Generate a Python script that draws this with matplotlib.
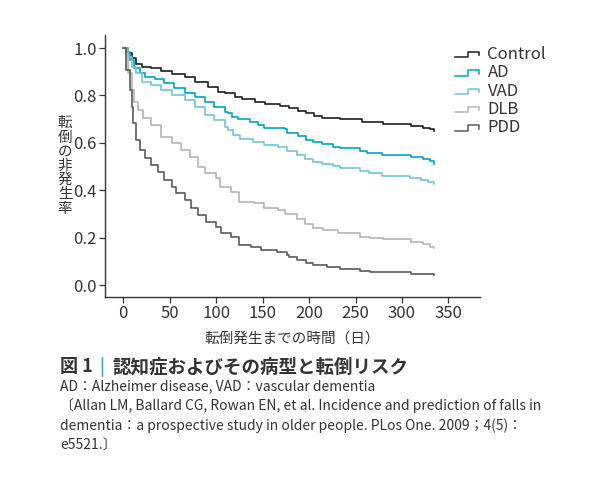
import matplotlib
matplotlib.use("Agg")
import matplotlib.pyplot as plt
from matplotlib.legend_handler import HandlerBase
from matplotlib.lines import Line2D

plt.rcParams['font.family'] = ['Noto Sans CJK JP', 'DejaVu Sans']

# values (time in days, proportion not fallen)
groups = ["Control", "AD", "VAD", "DLB", "PDD"]

control_days = [0, 5, 9, 14, 20, 30, 41, 52, 66, 77, 91, 102, 110, 120, 128, 142, 153, 169, 178, 188, 197, 205, 214, 233, 257, 280, 310, 323, 330, 335]
control_vals = [1.0, 0.978, 0.956, 0.932, 0.921, 0.914, 0.904, 0.89, 0.876, 0.858, 0.837, 0.816, 0.809, 0.795, 0.783, 0.774, 0.764, 0.755, 0.746, 0.734, 0.724, 0.713, 0.706, 0.699, 0.686, 0.678, 0.671, 0.664, 0.657, 0.651]

ad_days = [0, 3, 7, 12, 18, 23, 34, 44, 55, 66, 77, 88, 98, 109, 113, 117, 124, 136, 145, 151, 174, 176, 188, 197, 204, 214, 226, 233, 255, 262, 278, 310, 323, 330, 335]
ad_vals = [1.0, 0.985, 0.949, 0.914, 0.893, 0.879, 0.868, 0.851, 0.83, 0.812, 0.792, 0.774, 0.752, 0.731, 0.724, 0.71, 0.70, 0.686, 0.675, 0.664, 0.658, 0.64, 0.63, 0.612, 0.602, 0.594, 0.584, 0.577, 0.567, 0.557, 0.549, 0.541, 0.532, 0.523, 0.513]

vad_days = [0, 5, 9, 14, 20, 30, 41, 52, 66, 77, 88, 98, 109, 113, 118, 126, 140, 151, 167, 176, 187, 196, 204, 214, 226, 233, 255, 264, 278, 309, 321, 328, 335]
vad_vals = [1.0, 0.963, 0.921, 0.893, 0.858, 0.844, 0.823, 0.80, 0.78, 0.752, 0.717, 0.696, 0.668, 0.654, 0.633, 0.616, 0.602, 0.591, 0.581, 0.567, 0.549, 0.532, 0.518, 0.509, 0.502, 0.492, 0.481, 0.471, 0.46, 0.453, 0.443, 0.433, 0.425]

dlb_days = [0, 3, 5, 9, 12, 16, 21, 30, 41, 52, 62, 72, 80, 88, 100, 104, 116, 125, 141, 152, 167, 174, 187, 196, 204, 215, 231, 255, 266, 280, 310, 323, 330, 335]
dlb_vals = [1.0, 0.978, 0.893, 0.823, 0.774, 0.738, 0.703, 0.675, 0.626, 0.598, 0.57, 0.541, 0.499, 0.471, 0.45, 0.415, 0.394, 0.351, 0.345, 0.324, 0.316, 0.302, 0.281, 0.256, 0.242, 0.232, 0.218, 0.204, 0.20, 0.193, 0.183, 0.173, 0.162, 0.157]

pdd_days = [0, 3, 7, 9, 10, 14, 18, 23, 30, 37, 44, 52, 57, 66, 73, 80, 89, 100, 105, 116, 125, 138, 148, 166, 176, 178, 187, 197, 204, 219, 233, 255, 266, 276, 310, 323, 335]
pdd_vals = [1.0, 0.907, 0.823, 0.752, 0.682, 0.612, 0.57, 0.535, 0.506, 0.478, 0.443, 0.415, 0.387, 0.359, 0.324, 0.295, 0.267, 0.246, 0.218, 0.204, 0.169, 0.162, 0.148, 0.14, 0.127, 0.12, 0.105, 0.092, 0.084, 0.077, 0.07, 0.06, 0.056, 0.054, 0.048, 0.045, 0.041]

x_ticks = [0, 50, 100, 150, 200, 250, 300, 350]
y_ticks = [0.0, 0.2, 0.4, 0.6, 0.8, 1.0]

colors = ["#1e1e1e", "#00a5c2", "#6fc6da", "#b4b4b4", "#5a5a5a"]
series = [(control_days, control_vals), (ad_days, ad_vals), (vad_days, vad_vals),
          (dlb_days, dlb_vals), (pdd_days, pdd_vals)]


class StepHandler(HandlerBase):
    # little step glyph like in the original legend
    def create_artists(self, legend, orig_handle, xdescent, ydescent,
                       width, height, fontsize, trans):
        lo = height * 0.15
        hi = height * 0.6
        xs = [0, width * 0.5, width * 0.5, width * 0.9, width * 0.9]
        ys = [lo, lo, hi, hi, lo + (hi - lo) * 0.35]
        ln = Line2D(xs, ys, color=orig_handle.get_color(), lw=1.1, transform=trans)
        return [ln]


fig = plt.figure(figsize=(5.95, 4.84), dpi=100)
ax = fig.add_axes([105 / 595, 1 - 297 / 484, 375 / 595, 262 / 484])

handles = []
for name, (d, v), c in zip(groups, series, colors):
    h, = ax.step(d, v, where="post", color=c, lw=1.2, label=name)
    handles.append(h)

ax.set_xlim(-19.7, 384)
ax.set_ylim(-0.05, 1.055)
ax.set_xticks(x_ticks)
ax.set_yticks(y_ticks)
ax.set_yticklabels(["%.1f" % t for t in y_ticks])

for s in ["top", "right"]:
    ax.spines[s].set_visible(False)
for s in ["left", "bottom"]:
    ax.spines[s].set_color("#333333")
    ax.spines[s].set_linewidth(1.0)
ax.tick_params(direction="out", length=4, width=0.9, color="#333333",
               labelcolor="#333333", labelsize=12, pad=2)

ax.set_xlabel("転倒発生までの時間（日）", fontsize=10.5, color="#333333", labelpad=7)
fig.text(65 / 595, 1 - 166 / 484, "\n".join("転倒の非発生率"), fontsize=10.5,
         color="#333333", ha="center", va="center", linespacing=1.02)

leg = ax.legend(handles=handles, handler_map={Line2D: StepHandler()},
                loc="upper left", bbox_to_anchor=(455 / 595, 1 - 46 / 484),
                bbox_transform=fig.transFigure, frameon=False, fontsize=12,
                handlelength=1.6, handletextpad=0.35, labelspacing=0.08,
                borderaxespad=0, borderpad=0)
for t in leg.get_texts():
    t.set_color("#333333")

# caption below the chart
fig.text(60 / 595, 1 - 367 / 484, "図 1", fontsize=13, fontweight="bold",
         color="#333333", va="center")
fig.text(99 / 595, 1 - 367 / 484, "|", fontsize=12, fontweight="bold",
         color="#2bb3cc", va="center")
fig.text(112 / 595, 1 - 367 / 484, "認知症およびその病型と転倒リスク", fontsize=13.3,
         fontweight="bold", color="#333333", va="center")
caption = ("AD：Alzheimer disease, VAD：vascular dementia\n"
           "〔Allan LM, Ballard CG, Rowan EN, et al. Incidence and prediction of falls in\n"
           "dementia：a prospective study in older people. PLos One. 2009；4(5)：\n"
           "e5521.〕")
fig.text(60 / 595, 1 - 379 / 484, caption, fontsize=10, color="#333333",
         va="top", linespacing=1.45)

fig.savefig("out.png", dpi=100)
